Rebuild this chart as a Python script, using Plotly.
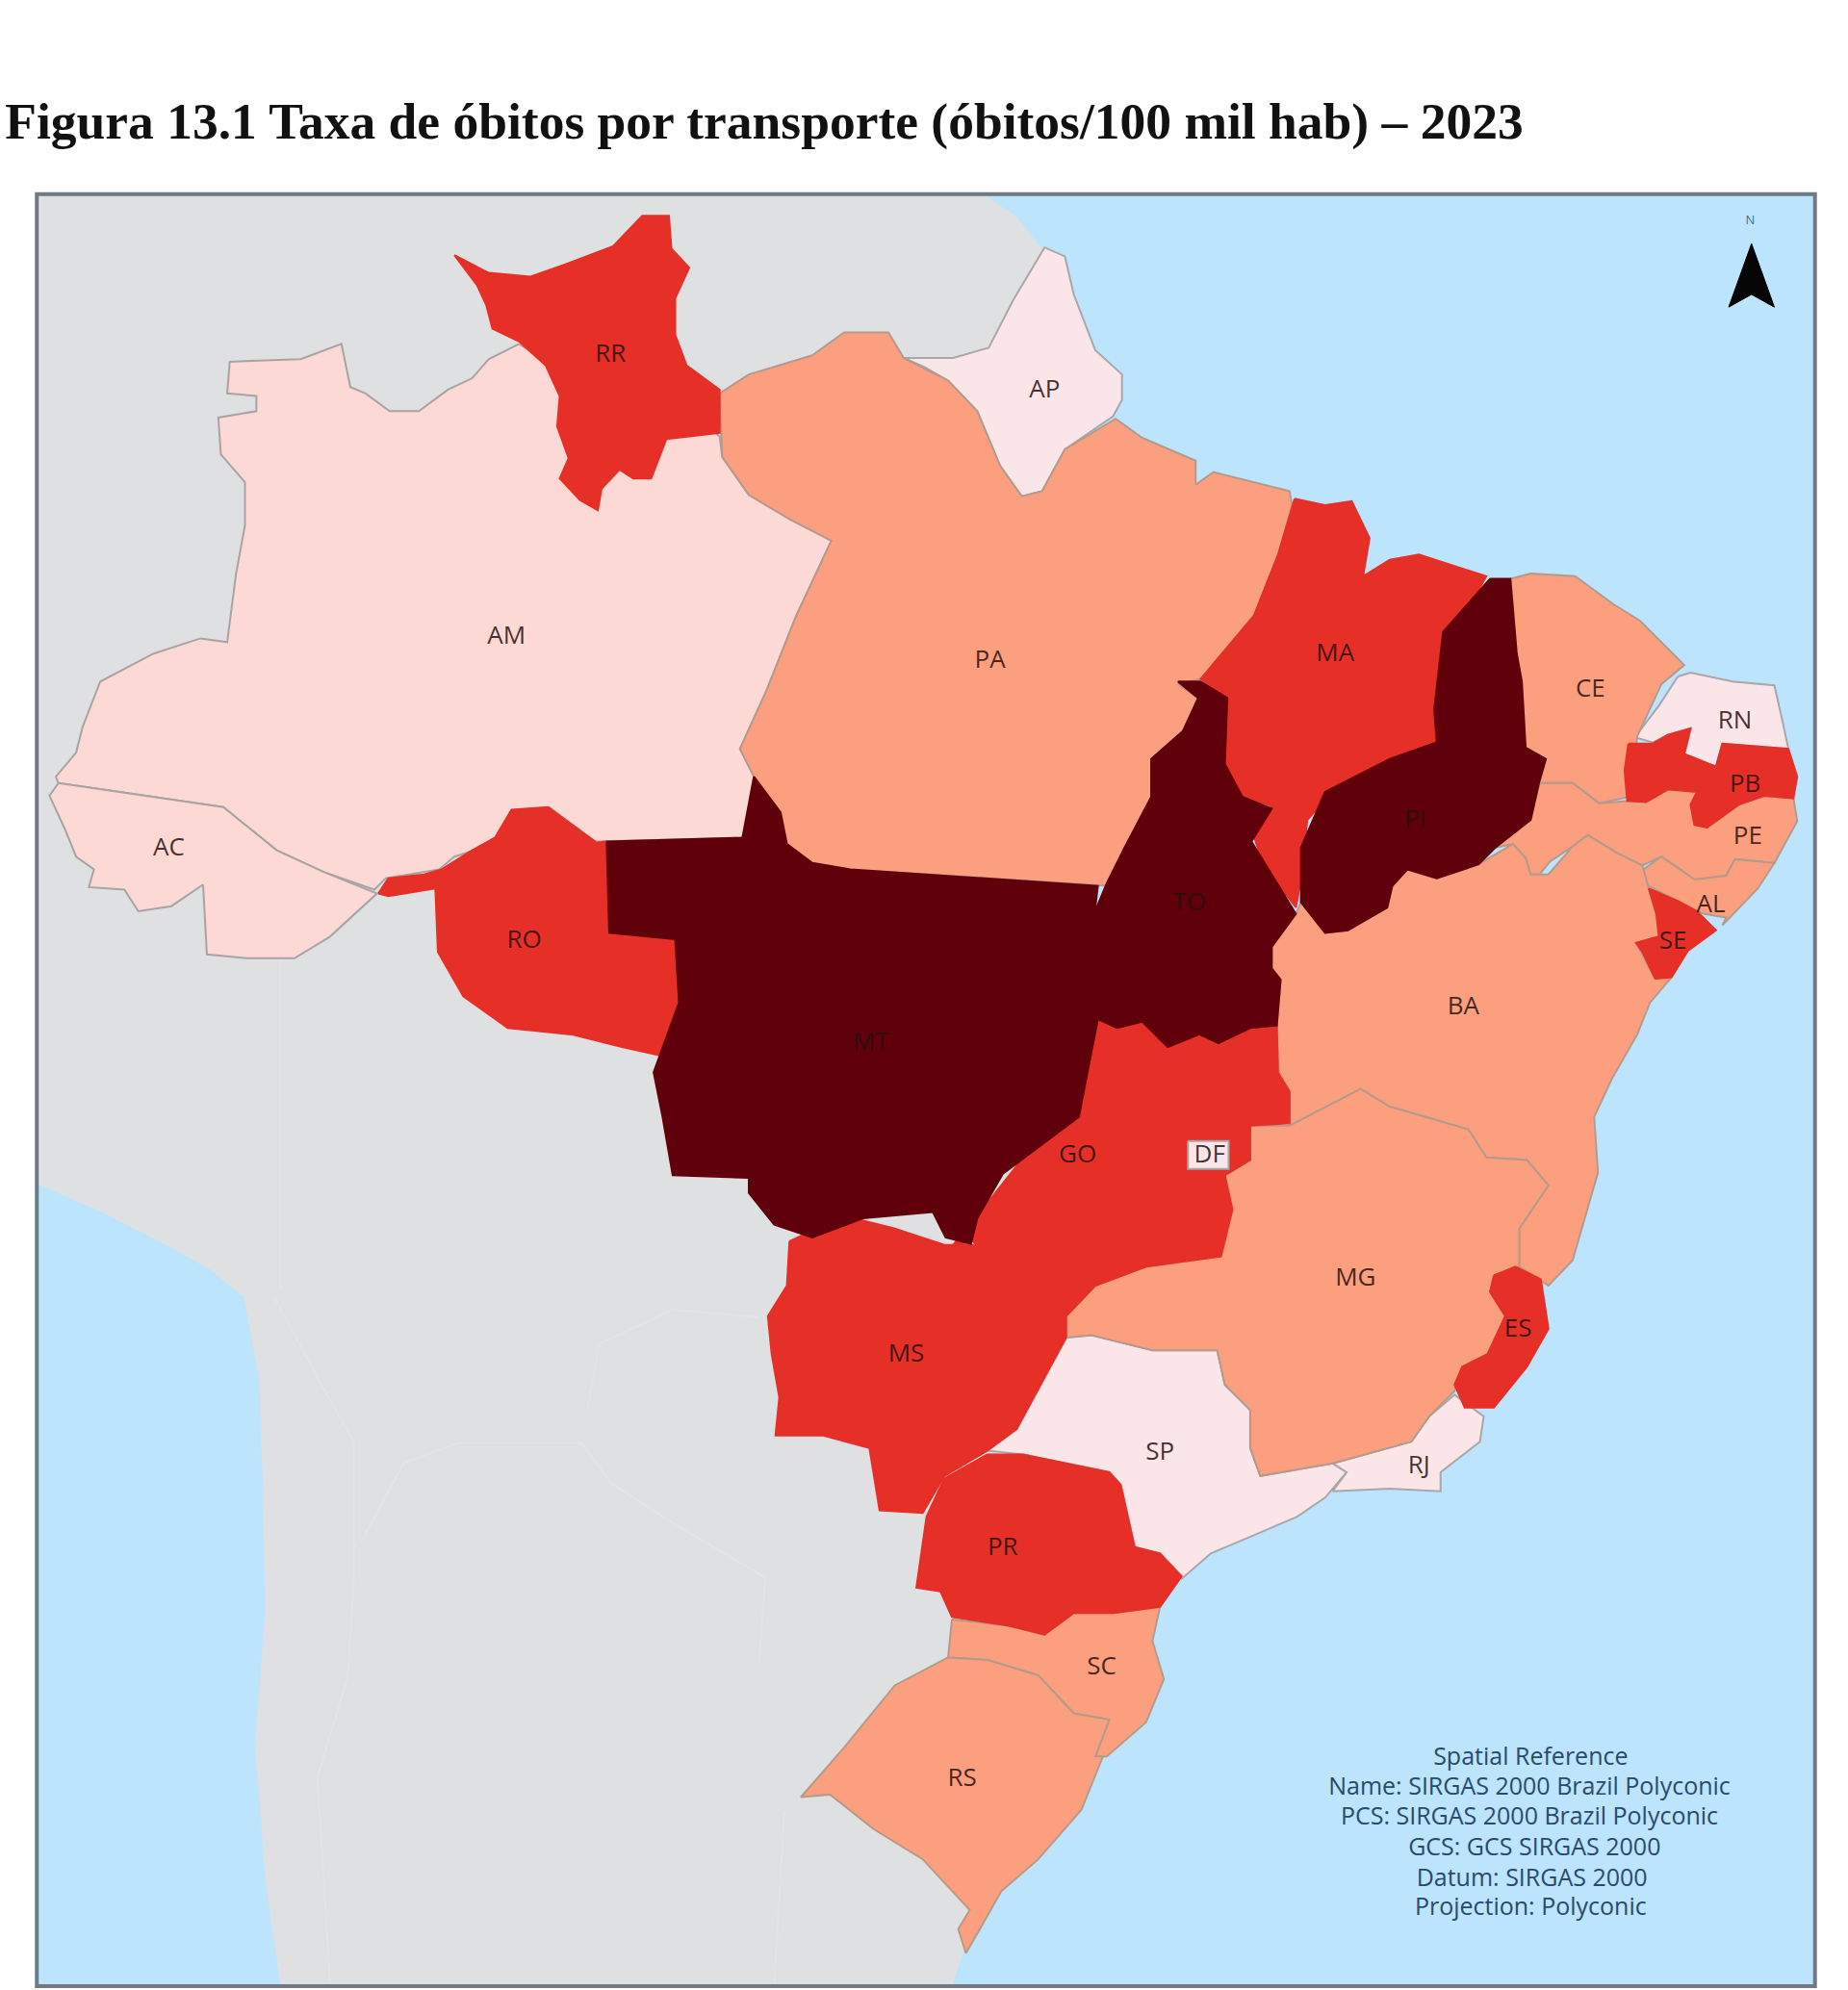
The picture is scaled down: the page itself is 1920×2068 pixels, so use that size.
import plotly.graph_objects as go

TITLE = "<b>Figura 13.1 Taxa de óbitos por transporte (óbitos/100 mil hab) – 2023</b>"

# map units: the page is 1456 x 1568 of them
LAND = [(29, 153), (775, 153), (800, 170), (822, 197), (800, 500), (900, 1000), (760, 1535), (750, 1565),
        (221, 1565), (209, 1480), (201, 1375), (209, 1269), (207, 1170), (204, 1085), (192, 1022),
        (165, 1000), (129, 980), (80, 955), (29, 933)]
BORDERS = [[(221, 755), (221, 1015)],
           [(216, 1022), (250, 1085), (279, 1137), (279, 1243), (274, 1322), (250, 1400), (255, 1479), (260, 1563)],
           [(284, 1216), (318, 1153), (361, 1137), (458, 1137), (482, 1169), (530, 1200), (603, 1243), (598, 1311)],
           [(463, 1111), (472, 1059), (530, 1032), (598, 1038)],
           [(618, 1427), (610, 1563)]]

RR = [(358, 201), (385, 215), (418, 218), (446, 208), (483, 194), (506, 170), (527, 170), (529, 196), (543, 211),
      (532, 235), (532, 264), (541, 288), (567, 307), (567, 341), (525, 346), (513, 377), (499, 377), (488, 370),
      (474, 385), (471, 402), (457, 394), (441, 377), (448, 361), (439, 336), (441, 312), (430, 288), (409, 269),
      (388, 259), (383, 240), (376, 225)]
AM = [(409, 271), (385, 283), (372, 298), (353, 307), (330, 324), (307, 324), (288, 310), (276, 305), (269, 271),
      (237, 283), (181, 285), (179, 310), (202, 312), (202, 324), (172, 329), (174, 358), (193, 380), (193, 414),
      (186, 452), (179, 506), (158, 503), (121, 515), (79, 537), (65, 573), (60, 593), (44, 612), (46, 617),
      (176, 636), (218, 670), (255, 687), (295, 701), (304, 692), (346, 685), (358, 675), (390, 665), (404, 639),
      (432, 636), (469, 663), (585, 660), (594, 612), (583, 590), (604, 544), (627, 486), (655, 426), (622, 409),
      (590, 390), (569, 360), (567, 344), (540, 320), (460, 320), (435, 288)]
AC = [(46, 617), (39, 627), (51, 653), (60, 675), (74, 685), (70, 699), (98, 701), (109, 718), (135, 714), (160, 697),
      (163, 752), (195, 755), (232, 755), (260, 738), (297, 704), (255, 687), (218, 670), (176, 636)]
RO = [(298, 704), (306, 692), (334, 689), (348, 685), (372, 670), (390, 660), (403, 638), (432, 636), (470, 664),
      (478, 663), (480, 735), (532, 740), (535, 780), (540, 790), (522, 832), (490, 825), (450, 815), (400, 810),
      (365, 785), (345, 750), (343, 700), (306, 706)]
MT = [(478, 663), (585, 660), (594, 612), (615, 640), (620, 665), (640, 680), (670, 685), (865, 698), (860, 740),
      (855, 770), (865, 803), (850, 880), (790, 925), (770, 960), (765, 980), (745, 975), (735, 955), (680, 960),
      (640, 975), (610, 965), (590, 940), (590, 928), (530, 926), (522, 880), (515, 845), (535, 790), (532, 740),
      (480, 735)]
PA = [(567, 310), (590, 295), (640, 280), (665, 262), (700, 262), (712, 282), (747, 300), (770, 324), (788, 367),
      (805, 391), (821, 387), (839, 354), (879, 330), (900, 345), (942, 363), (942, 382), (956, 372), (1016, 387),
      (1018, 398), (1007, 437), (988, 485), (946, 535), (928, 539), (944, 550), (932, 576), (907, 598), (907, 628),
      (886, 668), (872, 698), (670, 685), (640, 680), (620, 665), (610, 640), (594, 612), (583, 590), (604, 544),
      (627, 486), (655, 426), (622, 409), (590, 390), (569, 360)]
AP = [(712, 282), (751, 282), (779, 274), (798, 237), (823, 195), (839, 202), (846, 232), (863, 276), (884, 295),
      (884, 315), (877, 328), (839, 354), (821, 387), (805, 391), (788, 367), (770, 324), (747, 300), (728, 289)]
TO = [(928, 537), (946, 537), (967, 550), (965, 602), (979, 628), (1002, 637), (986, 663), (1002, 689), (1021, 720),
      (1002, 746), (1002, 763), (1009, 772), (1006, 808), (985, 810), (960, 822), (945, 815), (920, 825), (900, 805),
      (880, 810), (865, 803), (855, 770), (862, 720), (872, 696), (886, 668), (907, 628), (907, 598), (932, 576),
      (944, 550)]
MA = [(1020, 393), (1044, 398), (1065, 395), (1079, 424), (1074, 454), (1095, 441), (1118, 437), (1146, 446),
      (1171, 454), (1160, 474), (1137, 498), (1130, 559), (1132, 585), (1109, 598), (1053, 620), (1030, 646),
      (1025, 694), (1021, 715), (995, 681), (988, 659), (1002, 635), (979, 628), (965, 602), (967, 550), (946, 535),
      (988, 485), (1007, 437)]
PI = [(1174, 456), (1190, 456), (1195, 515), (1199, 537), (1202, 589), (1218, 598), (1213, 615), (1206, 646),
      (1178, 668), (1165, 681), (1132, 692), (1109, 685), (1097, 698), (1093, 715), (1062, 733), (1044, 735),
      (1025, 711), (1025, 668), (1044, 624), (1095, 598), (1132, 585), (1130, 559), (1137, 498)]
CE = [(1190, 456), (1206, 452), (1241, 454), (1271, 476), (1292, 489), (1327, 524), (1309, 539), (1290, 580),
      (1283, 628), (1260, 633), (1239, 617), (1213, 617), (1218, 598), (1202, 589), (1199, 537), (1195, 515)]
RN = [(1322, 533), (1332, 530), (1365, 537), (1398, 540), (1405, 571), (1409, 590), (1357, 586), (1352, 604),
      (1327, 594), (1332, 574), (1314, 579), (1302, 585), (1288, 581), (1307, 556)]
PB = [(1283, 586), (1302, 586), (1314, 579), (1332, 574), (1327, 594), (1352, 604), (1357, 586), (1409, 590),
      (1416, 612), (1413, 629), (1390, 627), (1370, 634), (1345, 652), (1335, 650), (1332, 634), (1337, 624),
      (1314, 622), (1297, 632), (1282, 631), (1280, 607)]
PE = [(1206, 646), (1213, 617), (1239, 617), (1260, 633), (1283, 631), (1297, 632), (1314, 622), (1337, 624),
      (1332, 634), (1335, 650), (1345, 652), (1370, 634), (1390, 627), (1413, 629), (1416, 647), (1398, 680),
      (1367, 677), (1360, 690), (1335, 693), (1324, 685), (1309, 675), (1294, 682), (1274, 672), (1251, 658),
      (1239, 667), (1221, 679), (1213, 689), (1206, 689), (1202, 676), (1192, 665), (1178, 668)]
AL = [(1292, 687), (1299, 698), (1322, 710), (1342, 720), (1360, 723), (1357, 729), (1385, 700), (1398, 680),
      (1367, 677), (1360, 690), (1335, 693), (1309, 675)]
SE = [(1299, 700), (1322, 710), (1337, 718), (1352, 733), (1330, 749), (1317, 770), (1304, 771), (1294, 750),
      (1289, 743), (1307, 738), (1305, 720)]
BA = [(1025, 711), (1044, 735), (1062, 733), (1093, 715), (1097, 698), (1109, 685), (1132, 692), (1165, 681),
      (1192, 665), (1202, 676), (1206, 689), (1220, 689), (1239, 667), (1251, 658), (1274, 672), (1294, 682),
      (1299, 700), (1305, 720), (1307, 738), (1289, 743), (1304, 771), (1317, 770), (1300, 790), (1290, 815),
      (1270, 850), (1256, 880), (1259, 924), (1239, 993), (1220, 1013), (1197, 998), (1197, 968), (1220, 934),
      (1203, 914), (1171, 912), (1157, 890), (1095, 872), (1072, 858), (1016, 887), (1016, 860), (1007, 845),
      (1006, 808), (1009, 772), (1002, 763), (1002, 746), (1021, 720)]
GO = [(865, 803), (880, 810), (900, 805), (920, 825), (945, 815), (960, 822), (985, 810), (1006, 808), (1007, 845),
      (1016, 860), (1016, 885), (985, 887), (985, 914), (965, 926), (971, 953), (962, 990), (903, 998), (863, 1013),
      (840, 1037), (806, 1017), (778, 998), (767, 978), (750, 982), (770, 958), (818, 897), (846, 845)]
DF = [(936, 899), (968, 899), (968, 921), (936, 921)]
MG = [(1016, 887), (1072, 858), (1095, 872), (1157, 890), (1171, 912), (1203, 914), (1220, 934), (1197, 968),
      (1197, 998), (1177, 1005), (1174, 1018), (1186, 1037), (1172, 1067), (1152, 1077), (1146, 1096), (1126, 1116),
      (1112, 1136), (1050, 1153), (993, 1163), (985, 1141), (985, 1111), (965, 1091), (959, 1064), (908, 1064),
      (860, 1052), (840, 1054), (840, 1037), (863, 1013), (903, 998), (962, 990), (971, 953), (965, 926), (985, 914),
      (985, 887)]
ES = [(1177, 1005), (1194, 998), (1214, 1008), (1220, 1047), (1203, 1077), (1177, 1109), (1154, 1109), (1146, 1091),
      (1152, 1077), (1172, 1067), (1186, 1037), (1174, 1018)]
SP = [(778, 1143), (801, 1126), (840, 1054), (860, 1052), (908, 1064), (959, 1064), (965, 1091), (985, 1111),
      (985, 1141), (993, 1163), (1050, 1153), (1061, 1160), (1044, 1180), (1022, 1195), (987, 1210), (954, 1224),
      (931, 1244), (914, 1224), (894, 1219), (883, 1170), (874, 1160), (806, 1146)]
RJ = [(1126, 1116), (1146, 1099), (1169, 1116), (1166, 1136), (1135, 1160), (1135, 1175), (1095, 1173), (1050, 1175),
      (1061, 1160), (1050, 1153), (1112, 1136)]
MS = [(622, 978), (665, 958), (705, 968), (744, 981), (767, 981), (778, 998), (840, 1037), (840, 1054), (801, 1126),
      (778, 1143), (744, 1163), (727, 1192), (693, 1190), (685, 1141), (648, 1131), (611, 1131), (614, 1101),
      (608, 1067), (605, 1037), (620, 1013)]
PR = [(778, 1146), (806, 1146), (874, 1160), (883, 1170), (894, 1219), (914, 1224), (931, 1242), (914, 1266),
      (877, 1271), (846, 1271), (823, 1288), (795, 1281), (750, 1274), (741, 1254), (722, 1251), (730, 1195),
      (744, 1165)]
SC = [(750, 1276), (795, 1281), (823, 1288), (846, 1271), (877, 1271), (914, 1266), (908, 1293), (917, 1323),
      (903, 1357), (872, 1384), (863, 1384), (874, 1355), (846, 1350), (818, 1320), (778, 1308), (747, 1306)]
RS = [(747, 1306), (778, 1308), (818, 1320), (846, 1350), (874, 1355), (863, 1384), (869, 1384), (852, 1426),
      (818, 1465), (789, 1490), (772, 1520), (761, 1539), (755, 1520), (764, 1505), (727, 1465), (688, 1441),
      (654, 1414), (631, 1416), (665, 1377), (705, 1328)]

# state, outline, class (0 lightest .. 4 darkest), drawn lightest first, DF sits on top of GO
STATES = ["AM", "AC", "AP", "RN", "SP", "RJ", "PA", "CE", "PE", "AL", "BA", "MG", "SC", "RS",
          "RR", "RO", "MA", "PB", "SE", "GO", "ES", "MS", "PR", "MT", "TO", "PI", "DF"]
OUTLINES = [AM, AC, AP, RN, SP, RJ, PA, CE, PE, AL, BA, MG, SC, RS,
            RR, RO, MA, PB, SE, GO, ES, MS, PR, MT, TO, PI, DF]
CLASSES = [1, 1, 0, 0, 0, 0, 2, 2, 2, 2, 2, 2, 2, 2,
           3, 3, 3, 3, 3, 3, 3, 3, 3, 4, 4, 4, 0]
CLASS_COLORS = ["#FAE6E8", "#FDD9D6", "#FC9F7F", "#E62F27", "#60000A"]
EDGE_COLORS = ["#A9A7A8", "#A9A3A3", "#B59A8C", "#E62F27", "#60000A"]

LABELS = ["RR", "AP", "AM", "PA", "MA", "CE", "RN", "PB", "PE", "PI", "AL", "SE", "TO", "BA", "RO", "MT", "AC",
          "GO", "DF", "MG", "ES", "MS", "SP", "RJ", "PR", "SC", "RS"]
LABEL_X = [481, 823, 399, 780, 1052, 1253, 1367, 1375, 1377, 1115, 1348, 1318, 937, 1153, 413, 686, 133,
           849, 953, 1068, 1196, 714, 914, 1118, 790, 868, 758]
LABEL_Y = [280, 308, 502, 521, 516, 544, 569, 619, 660, 647, 714, 743, 712, 794, 742, 822, 669,
           911, 911, 1008, 1048, 1068, 1145, 1156, 1220, 1314, 1402]

SPATIAL_REF = ["Spatial Reference", "Name: SIRGAS 2000 Brazil Polyconic", "PCS: SIRGAS 2000 Brazil Polyconic",
               "GCS: GCS SIRGAS 2000", "Datum: SIRGAS 2000", "Projection: Polyconic"]
SPATIAL_X = [1206, 1205, 1205, 1209, 1207, 1206]
SPATIAL_Y = [1386, 1409, 1433, 1457, 1481, 1504]

ARROW = [(1362, 242), (1380, 192), (1398, 242), (1380, 232)]


def xy(points):
    xs, ys = zip(*points)
    return list(xs) + [xs[0]], list(ys) + [ys[0]]


fig = go.Figure()

x, y = xy(LAND)
fig.add_trace(go.Scatter(x=x, y=y, mode="lines", fill="toself", fillcolor="#DFE0E1",
                         line=dict(width=0), hoverinfo="skip"))
for line in BORDERS:
    xs, ys = zip(*line)
    fig.add_trace(go.Scatter(x=xs, y=ys, mode="lines", line=dict(color="#E3E4E5", width=2), hoverinfo="skip"))

for name, outline, c in zip(STATES, OUTLINES, CLASSES):
    x, y = xy(outline)
    fig.add_trace(go.Scatter(x=x, y=y, mode="lines", fill="toself", fillcolor=CLASS_COLORS[c], name=name,
                             line=dict(color=EDGE_COLORS[c], width=2), hoverinfo="name"))

x, y = xy(ARROW)
fig.add_trace(go.Scatter(x=x, y=y, mode="lines", fill="toself", fillcolor="#050505",
                         line=dict(color="#050505", width=1), hoverinfo="skip"))

fig.add_trace(go.Scatter(x=LABEL_X, y=LABEL_Y, mode="text", text=LABELS,
                         textfont=dict(family="Open Sans", size=26, color="rgba(40,15,15,0.85)"),
                         hoverinfo="skip"))
fig.add_trace(go.Scatter(x=SPATIAL_X, y=SPATIAL_Y, mode="text", text=SPATIAL_REF,
                         textfont=dict(family="Open Sans", size=25, color="#2A4A6C"), hoverinfo="skip"))
fig.add_trace(go.Scatter(x=[1379], y=[174], mode="text", text=["N"],
                         textfont=dict(family="Open Sans", size=13, color="#4A6C90"), hoverinfo="skip"))
fig.add_trace(go.Scatter(x=[4], y=[99], mode="text", text=[TITLE], textposition="middle right",
                         textfont=dict(family="Liberation Serif", size=53.5, color="#111111"), hoverinfo="skip"))

axis = dict(showline=False, zeroline=False, showgrid=False, showticklabels=False)
fig.update_layout(width=1920, height=2068, showlegend=False,
                  margin=dict(l=0, r=0, t=0, b=0),
                  paper_bgcolor="white", plot_bgcolor="white",
                  xaxis=dict(range=[0, 1456], **axis),
                  yaxis=dict(range=[1568, 0], **axis),
                  shapes=[dict(type="rect", layer="below", x0=29, x1=1430, y0=153, y1=1565,
                               fillcolor="#BCE4FD", line=dict(width=0)),
                          dict(type="rect", layer="above", x0=29, x1=1430, y0=153, y1=1565,
                               line=dict(color="#6F7A84", width=4))])
fig.write_html("out.html", config=dict(displayModeBar=False), post_script="document.body.style.margin='0'")
